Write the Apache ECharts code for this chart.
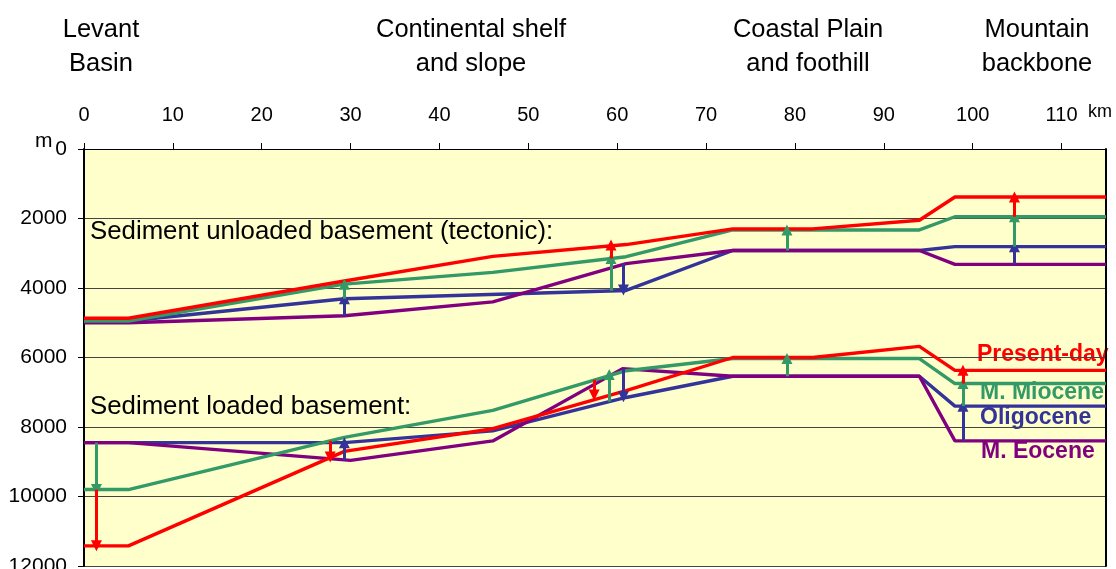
<!DOCTYPE html>
<html>
<head>
<meta charset="utf-8">
<script src="https://cdn.jsdelivr.net/npm/echarts@6/dist/echarts.min.js"></script>
<style>
  html, body { margin: 0; padding: 0; background: #ffffff; }
  #chart { width: 1116px; height: 569px; }
</style>
</head>
<body>
<div id="chart"></div>
<script>
// Distance along the profile (km) and basement depth (m) for each stage.
// Sediment unloaded (tectonic) basement
const tectPresent   = [[0, 4870], [5, 4870], [29.3, 3800], [46, 3090], [61, 2750], [73, 2300], [82, 2300], [94, 2050], [98, 1380], [115, 1380]];
const tectMiocene   = [[0, 4950], [5, 4950], [29.3, 3890], [46, 3550], [61, 3100], [73, 2330], [94, 2330], [98, 1950], [115, 1950]];
const tectOligocene = [[0, 4950], [5, 4950], [29.3, 4310], [61, 4070], [73, 2920], [94, 2920], [98, 2810], [115, 2810]];
const tectEocene    = [[0, 5000], [5, 5000], [29.3, 4800], [46, 4400], [61, 3300], [73, 2920], [94, 2920], [98, 3320], [115, 3320]];

// Sediment loaded basement
const loadPresent   = [[0, 11420], [5, 11420], [29.3, 8700], [46, 8050], [61, 6950], [73, 6000], [82, 6000], [94, 5680], [98, 6370], [115, 6370]];
const loadMiocene   = [[0, 9800], [5, 9800], [29.3, 8300], [46, 7520], [61, 6380], [73, 6030], [94, 6030], [98, 6750], [115, 6750]];
const loadOligocene = [[0, 8450], [29.3, 8450], [46, 8110], [61, 7150], [73, 6540], [94, 6540], [98, 7400], [115, 7400]];
const loadEocene    = [[0, 8450], [5, 8450], [30, 8960], [46, 8400], [60.6, 6320], [73, 6540], [94, 6540], [98, 8400], [115, 8400]];

// Vertical change arrows: [km, from depth, to depth]
const arrowsOligocene = [[29.3, 4800, 4310], [60.7, 3300, 4060], [104.7, 3320, 2810],
                         [29.3, 8960, 8450], [60.7, 6330, 7130], [98.9, 8400, 7400]];
const arrowsMiocene   = [[29.3, 4310, 3890], [59.3, 4080, 3150], [79.1, 2920, 2330], [104.7, 2810, 1950],
                         [1.4, 8450, 9800], [59.1, 7270, 6490], [79.1, 6540, 6030], [98.9, 7400, 6750]];
const arrowsPresent   = [[59.3, 3150, 2760], [104.7, 1950, 1380],
                         [1.4, 9800, 11420], [27.7, 8400, 8860], [57.4, 6640, 7080], [98.9, 6750, 6370]];

const xTicks = { min: 0, max: 115, step: 10 };
const yTicks = { min: 0, max: 12000, step: 2000 };

const stageNames  = ['Present-day', 'M. Miocene', 'Oligocene', 'M. Eocene'];
const regionNames = ['Levant\nBasin', 'Continental shelf\nand slope', 'Coastal Plain\nand foothill', 'Mountain\nbackbone'];

const RED = '#ff0000', GREEN = '#339966', BLUE = '#333399', PURPLE = '#800080';
const FONT = '"Liberation Sans", Arial, sans-serif';

function arrowMarks(list, color) {
  return {
    silent: true,
    animation: false,
    symbol: ['none', 'triangle'],
    symbolSize: [11, 11],
    label: { show: false },
    lineStyle: { color: color, width: 3, type: 'solid' },
    emphasis: { disabled: true },
    data: list.map(a => [{ coord: [a[0], a[1]] }, { coord: [a[0], a[2]] }])
  };
}

function profile(name, data, color, arrows) {
  const s = {
    name: name,
    type: 'line',
    data: data,
    symbol: 'none',
    lineStyle: { color: color, width: 3.4 },
    itemStyle: { color: color },
    silent: true,
    animation: false
  };
  if (arrows) s.markLine = arrowMarks(arrows, color);
  return s;
}

function heading(x, text) {
  return { type: 'text', x: x, y: 13, style: { text: text, font: '25.5px ' + FONT, fill: '#000', align: 'center', lineHeight: 34 } };
}

function stageLabel(x, y, text, color) {
  return { type: 'text', x: x, y: y, style: { text: text, font: 'bold 23px ' + FONT, fill: color, verticalAlign: 'middle' } };
}

const chart = echarts.init(document.getElementById('chart'), null, { renderer: 'canvas' });

chart.setOption({
  animation: false,
  backgroundColor: '#ffffff',
  textStyle: { fontFamily: FONT },
  grid: {
    left: 84, right: 10, top: 149, bottom: 3,
    containLabel: false,
    outerBoundsMode: 'none',
    show: true, backgroundColor: '#ffffcc', borderWidth: 0
  },
  xAxis: {
    type: 'value',
    position: 'top',
    min: xTicks.min, max: xTicks.max, interval: xTicks.step,
    axisLine: { show: true, lineStyle: { color: '#000', width: 1 } },
    axisTick: { show: true, length: 6, lineStyle: { color: '#000' } },
    axisLabel: { color: '#000', fontSize: 20, fontFamily: FONT, margin: 24, showMaxLabel: false },
    splitLine: { show: false }
  },
  yAxis: [{
    type: 'value',
    inverse: true,
    min: yTicks.min, max: yTicks.max, interval: yTicks.step,
    axisLine: { show: true, lineStyle: { color: '#000', width: 2 } },
    axisTick: { show: true, length: 6, lineStyle: { color: '#000' } },
    axisLabel: { color: '#000', fontSize: 21, fontFamily: FONT, margin: 17, formatter: v => String(v) },
    splitLine: { show: true, lineStyle: { color: '#444', width: 1 } }
  }, {
    type: 'value',
    inverse: true,
    position: 'right',
    min: yTicks.min, max: yTicks.max,
    axisLine: { show: true, lineStyle: { color: '#000', width: 2 } },
    axisTick: { show: false },
    axisLabel: { show: false },
    splitLine: { show: false }
  }],
  graphic: [
    { type: 'text', left: 35, top: 131, style: { text: 'm', font: '21px ' + FONT, fill: '#000' } },
    { type: 'text', left: 1088, top: 103, style: { text: 'km', font: '18px ' + FONT, fill: '#000' } },
    { type: 'text', x: 90, y: 232, style: { text: 'Sediment unloaded basement (tectonic):', font: '25.8px ' + FONT, fill: '#000', verticalAlign: 'middle' } },
    { type: 'text', x: 90, y: 407, style: { text: 'Sediment loaded basement:', font: '25.8px ' + FONT, fill: '#000', verticalAlign: 'middle' } },
    stageLabel(977, 355, stageNames[0], RED),
    stageLabel(980, 393, stageNames[1], GREEN),
    stageLabel(980, 418, stageNames[2], BLUE),
    stageLabel(981, 452, stageNames[3], PURPLE),
    heading(101, regionNames[0]),
    heading(471, regionNames[1]),
    heading(808, regionNames[2]),
    heading(1037, regionNames[3])
  ],
  series: [
    profile('tect-oligocene', tectOligocene, BLUE),
    profile('tect-eocene', tectEocene, PURPLE),
    profile('tect-miocene', tectMiocene, GREEN),
    profile('tect-present', tectPresent, RED),
    profile('load-oligocene', loadOligocene, BLUE, arrowsOligocene),
    profile('load-eocene', loadEocene, PURPLE),
    profile('load-miocene', loadMiocene, GREEN, arrowsMiocene),
    profile('load-present', loadPresent, RED, arrowsPresent)
  ]
});
</script>
</body>
</html>
